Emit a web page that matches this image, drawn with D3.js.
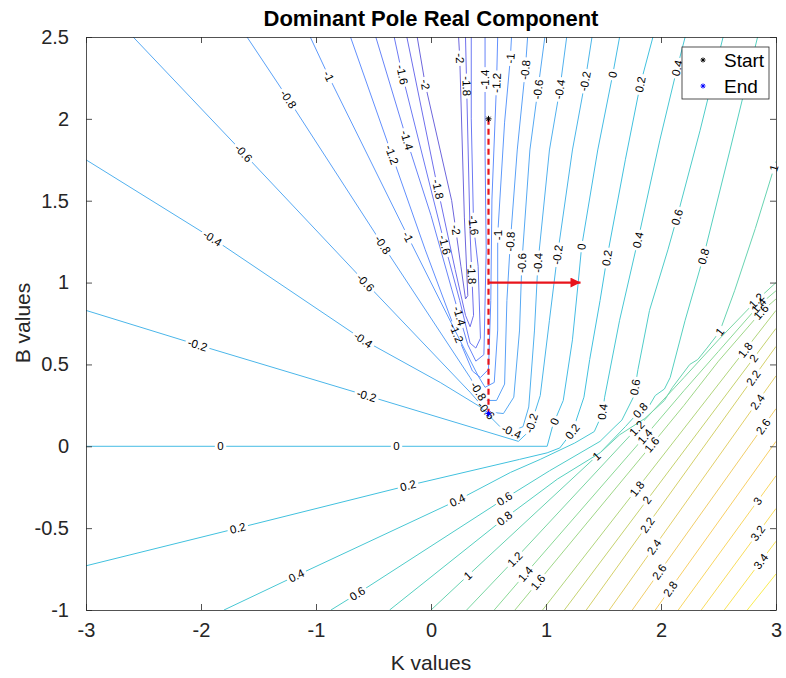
<!DOCTYPE html>
<html>
<head>
<meta charset="utf-8">
<title>Dominant Pole Real Component</title>
<script src="https://cdn.jsdelivr.net/npm/d3@7"></script>
<style>
  body { margin: 0; background: #fff; }
  svg { font-family: "Liberation Sans", Arial, Helvetica, sans-serif; }
  .tick text { fill: #262626; font-size: 20px; }
  .axis path, .axis line { stroke: #262626; stroke-width: 0.8; }
  .clabel { font-size: 11.5px; fill: #000; }
</style>
</head>
<body>
<script>
// contour level of every traced polyline (K, B pairs)
var lineLevels = [0, -0.2, -0.4, -0.6, -0.8, -1, -1.2, -1.4, -1.6, -1.8, -2,
                  0.2, 0.4, 0.6, 0.8, 1, 1.2, 1.4, 1.6,
                  1.8, 2, 2.2, 2.4, 2.6, 2.8, 3, 3.2, 3.4, 3.6];

var linePoints = [
  [[-3,0],[1.01,0],[1.06,0.13],[1.15,0.28],[1.23,0.65],[1.28,1.0],[1.31,1.22],[1.45,1.81],[1.58,2.27],[1.64,2.5]],
  [[-3,0.83],[-2.03,0.62],[-0.56,0.31],[0.76,0.03],[0.85,0.09],[0.95,0.31],[1.03,0.77],[1.10,1.17],[1.23,1.81],[1.34,2.23],[1.40,2.5]],
  [[-3,1.75],[-1.9,1.27],[-0.59,0.65],[0.08,0.39],[0.43,0.24],[0.6,0.12],[0.7,0.09],[0.8,0.12],[0.85,0.24],[0.90,0.71],[0.93,1.12],[1.03,1.81],[1.12,2.18],[1.18,2.5]],
  [[-2.59,2.5],[-1.63,1.79],[-0.57,1.0],[0.34,0.33],[0.49,0.21],[0.63,0.2],[0.72,0.3],[0.77,0.71],[0.79,1.12],[0.86,1.81],[0.93,2.18],[0.99,2.5]],
  [[-1.6,2.5],[-1.24,2.12],[-0.42,1.23],[0.34,0.42],[0.46,0.28],[0.57,0.28],[0.64,0.38],[0.66,0.89],[0.69,1.25],[0.75,1.81],[0.82,2.3],[0.84,2.5]],
  [[-1.05,2.5],[-0.89,2.26],[-0.2,1.28],[0.25,0.65],[0.41,0.43],[0.47,0.36],[0.55,0.39],[0.58,0.71],[0.58,1.29],[0.64,1.98],[0.69,2.37],[0.70,2.5]],
  [[-0.7,2.5],[-0.34,1.78],[-0.05,1.2],[0.21,0.71],[0.36,0.46],[0.43,0.42],[0.5,0.47],[0.52,0.89],[0.53,1.51],[0.57,2.22],[0.58,2.5]],
  [[-0.48,2.5],[-0.21,1.87],[0,1.41],[0.18,0.96],[0.32,0.62],[0.39,0.52],[0.46,0.56],[0.48,1.2],[0.47,1.8],[0.47,2.24],[0.47,2.5]],
  [[-0.32,2.5],[-0.25,2.27],[0.12,1.23],[0.25,0.89],[0.34,0.63],[0.39,0.6],[0.43,0.66],[0.41,1.1],[0.37,1.35],[0.35,2.0],[0.35,2.5]],
  [[-0.21,2.5],[0.06,1.57],[0.21,1.08],[0.30,0.8],[0.34,0.73],[0.37,0.8],[0.34,1.3],[0.31,2.2],[0.30,2.5]],
  [[-0.12,2.5],[-0.05,2.21],[0.18,1.5],[0.26,1.1],[0.3,0.9],[0.32,0.92],[0.29,1.4],[0.25,2.37],[0.24,2.5]],
  [[-3,-0.73],[-1.68,-0.5],[-0.2,-0.24],[0.77,-0.08],[1.01,-0.04],[1.12,-0.01],[1.23,0.09],[1.33,0.3],[1.38,0.53],[1.47,0.89],[1.53,1.15],[1.69,1.75],[1.82,2.21],[1.93,2.5]],
  [[-1.8,-1],[-1.17,-0.79],[0.23,-0.33],[0.69,-0.16],[0.95,-0.08],[1.25,0.02],[1.42,0.09],[1.49,0.2],[1.51,0.3],[1.64,0.77],[1.8,1.26],[1.99,1.87],[2.14,2.31],[2.21,2.5]],
  [[-0.87,-1],[-0.64,-0.9],[0.64,-0.32],[1.03,-0.15],[1.47,0.03],[1.6,0.12],[1.66,0.16],[1.76,0.3],[1.8,0.47],[1.9,0.83],[2.06,1.2],[2.14,1.4],[2.34,1.93],[2.54,2.5]],
  [[-0.36,-1],[0.64,-0.44],[1.1,-0.2],[1.47,-0.04],[1.69,0.12],[1.82,0.22],[1.9,0.25],[1.95,0.31],[2.03,0.35],[2.08,0.42],[2.21,0.77],[2.37,1.16],[2.6,1.81],[2.84,2.5]],
  [[0,-1],[0.32,-0.79],[1.44,-0.06],[1.64,0.07],[1.86,0.17],[2.03,0.28],[2.1,0.36],[2.25,0.5],[2.32,0.53],[2.4,0.6],[2.51,0.7],[2.64,0.95],[2.82,1.33],[3.0,1.74]],
  [[0.31,-1],[0.73,-0.69],[1.79,0.11],[2.2,0.42],[2.5,0.65],[2.83,0.89],[3.0,1.0]],
  [[0.55,-1],[0.82,-0.78],[1.86,0.06],[2.2,0.34],[2.5,0.58],[2.85,0.86],[3.0,0.95]],
  [[0.73,-1],[0.93,-0.83],[1.92,0.01],[2.2,0.25],[2.5,0.52],[2.87,0.82],[3.0,0.9]],
  [[0.97,-1],[3,0.83]],
  [[1.16,-1],[3,0.72]],
  [[1.35,-1],[3,0.61]],
  [[1.55,-1],[3,0.43]],
  [[1.75,-1],[3,0.23]],
  [[1.95,-1],[3,0.03]],
  [[2.15,-1],[3,-0.18]],
  [[2.35,-1],[3,-0.38]],
  [[2.55,-1],[3,-0.58]],
  [[2.75,-1],[3,-0.78]]
];

// where the inline level labels sit (K, B)
var labelSpots = [
  [[-1.83,0],[-0.3,0],[1.08,0.15],[1.31,1.22],[1.58,2.27]],
  [[-2.03,0.62],[-0.56,0.31],[0.88,0.14],[1.10,1.17],[1.34,2.23]],
  [[-1.9,1.27],[-0.59,0.65],[0.7,0.09],[0.93,1.12],[1.12,2.18]],
  [[-1.63,1.79],[-0.57,1.0],[0.79,1.12],[0.93,2.18],[0.48,0.22]],
  [[-1.24,2.12],[-0.42,1.23],[0.69,1.25],[0.82,2.3],[0.42,0.34]],
  [[-0.89,2.26],[-0.2,1.28],[0.58,1.29],[0.69,2.37]],
  [[-0.34,1.78],[0.57,2.22],[0.25,0.7]],
  [[-0.21,1.87],[0.47,2.24],[0.22,0.79]],
  [[-0.25,2.27],[0.12,1.23],[0.37,1.35]],
  [[0.06,1.57],[0.31,2.2],[0.34,1.05]],
  [[-0.05,2.21],[0.25,2.37],[0.2,1.32]],
  [[-1.68,-0.5],[-0.2,-0.24],[1.23,0.09],[1.53,1.15],[1.82,2.21]],
  [[-1.17,-0.79],[0.23,-0.33],[1.5,0.21],[1.8,1.26],[2.14,2.31]],
  [[-0.64,-0.9],[0.64,-0.32],[1.78,0.36],[2.14,1.4]],
  [[0.64,-0.44],[1.82,0.22],[2.37,1.16]],
  [[0.32,-0.79],[1.44,-0.06],[2.51,0.7],[2.98,1.7]],
  [[0.73,-0.69],[1.79,0.11],[2.83,0.89]],
  [[0.82,-0.78],[1.86,0.06],[2.85,0.86]],
  [[0.93,-0.83],[1.92,0.01],[2.87,0.82]],
  [[1.81,-0.27],[2.73,0.59]],
  [[1.88,-0.33],[2.82,0.53]],
  [[1.88,-0.48],[2.8,0.42]],
  [[1.95,-0.62],[2.84,0.27]],
  [[1.97,-0.76],[2.89,0.12]],
  [[2.06,-0.86]],
  [[2.83,-0.33]],
  [[2.84,-0.53]],
  [[2.88,-0.71]],
  []
];

var xTicks = [-3, -2, -1, 0, 1, 2, 3];
var yTicks = [-1, -0.5, 0, 0.5, 1, 1.5, 2, 2.5];
var startPt = [0.5, 2];
var endPt = [0.5, 0.2];
var arrowFrom = [0.5, 1];
var arrowTo = [1.3, 1];
var legendNames = ["Start", "End"];

var W = 786, H = 678;
var svg = d3.select("body").append("svg").attr("width", W).attr("height", H);

var x = d3.scaleLinear().domain([-3, 3]).range([86, 776]);
var y = d3.scaleLinear().domain([-1, 2.5]).range([610, 37]);

// parula colour map, lightened a little the way thin anti-aliased lines look
var parula = ["#3e26a8", "#4748eb", "#3375fe", "#2398eb", "#09afd8", "#26c3ad", "#6ecf74", "#bec440", "#f6be3c", "#f6d929", "#f9fb0e"];
var cLo = -2.4, cHi = 4.0;
var parulaScale = d3.scaleLinear()
  .domain(parula.map(function(d, i) { return cLo + i * (cHi - cLo) / (parula.length - 1); }))
  .range(parula);
var color = function(v) { return d3.interpolateRgb(parulaScale(v), "#fff")(0.22); };

var defs = svg.append("defs");
defs.append("clipPath").attr("id", "plotclip")
  .append("rect").attr("x", 86).attr("y", 37).attr("width", 690).attr("height", 573);

var line = d3.line().x(function(d) { return x(d[0]); }).y(function(d) { return y(d[1]); });

var fmt = function(v) { return String(+v.toFixed(1)); };

function nearest(pts, p) {
  var best = null;
  for (var j = 0; j < pts.length - 1; j++) {
    var a = pts[j], b = pts[j + 1];
    var dx = b[0] - a[0], dy = b[1] - a[1];
    var l2 = dx * dx + dy * dy;
    var t = l2 ? Math.max(0, Math.min(1, ((p[0] - a[0]) * dx + (p[1] - a[1]) * dy) / l2)) : 0;
    var qx = a[0] + t * dx, qy = a[1] + t * dy;
    var d = (p[0] - qx) * (p[0] - qx) + (p[1] - qy) * (p[1] - qy);
    if (!best || d < best.d) best = {d: d, x: qx, y: qy, ang: Math.atan2(dy, dx) * 180 / Math.PI};
  }
  if (best.ang > 90) best.ang -= 180;
  if (best.ang < -90) best.ang += 180;
  return best;
}

var plot = svg.append("g").attr("clip-path", "url(#plotclip)");
var labelG = svg.append("g");

linePoints.forEach(function(pts, i) {
  var px = pts.map(function(d) { return [x(d[0]), y(d[1])]; });
  var mask = defs.append("mask").attr("id", "m" + i)
    .attr("maskUnits", "userSpaceOnUse")
    .attr("x", 0).attr("y", 0).attr("width", W).attr("height", H);
  mask.append("rect").attr("width", W).attr("height", H).attr("fill", "#fff");

  labelSpots[i].forEach(function(s) {
    var n = nearest(px, [x(s[0]), y(s[1])]);
    var t = labelG.append("text").attr("class", "clabel")
      .attr("text-anchor", "middle")
      .attr("dy", "0.35em")
      .attr("transform", "translate(" + n.x + "," + n.y + ") rotate(" + n.ang + ")")
      .text(fmt(lineLevels[i]));
    var w = t.node().getComputedTextLength() + 5;
    mask.append("rect")
      .attr("x", -w / 2).attr("y", -6).attr("width", w).attr("height", 12)
      .attr("transform", "translate(" + n.x + "," + n.y + ") rotate(" + n.ang + ")")
      .attr("fill", "#000");
  });

  plot.append("path")
    .datum(pts)
    .attr("d", line)
    .attr("fill", "none")
    .attr("stroke", color(lineLevels[i]))
    .attr("stroke-width", 1)
    .attr("mask", "url(#m" + i + ")");
});

// path from start to end
plot.append("line")
  .attr("x1", x(startPt[0])).attr("y1", y(startPt[1]))
  .attr("x2", x(endPt[0])).attr("y2", y(endPt[1]))
  .attr("stroke", "#e8141c").attr("stroke-width", 2.2)
  .attr("stroke-dasharray", "6,4");

defs.append("marker").attr("id", "head")
  .attr("viewBox", "0 0 10 10").attr("refX", 10).attr("refY", 5)
  .attr("markerWidth", 12).attr("markerHeight", 10)
  .attr("markerUnits", "userSpaceOnUse").attr("orient", "auto")
  .append("path").attr("d", "M0,0L10,5L0,10z").attr("fill", "#e8141c");

plot.append("line")
  .attr("x1", x(arrowFrom[0])).attr("y1", y(arrowFrom[1]))
  .attr("x2", x(arrowTo[0])).attr("y2", y(arrowTo[1]))
  .attr("stroke", "#e8141c").attr("stroke-width", 2.2)
  .attr("marker-end", "url(#head)");

function star(g, cx, cy, r, col) {
  [[r, 0], [0, r], [r * 0.7, r * 0.7], [r * 0.7, -r * 0.7]].forEach(function(v) {
    g.append("line").attr("x1", cx - v[0]).attr("y1", cy - v[1])
      .attr("x2", cx + v[0]).attr("y2", cy + v[1])
      .attr("stroke", col).attr("stroke-width", 1);
  });
}
star(svg, x(startPt[0]), y(startPt[1]), 3, "#000");
star(svg, x(endPt[0]), y(endPt[1]), 3, "#0000ff");

// axes, MATLAB style box with inward ticks
svg.append("g").attr("class", "axis").attr("transform", "translate(0,610)")
  .call(d3.axisBottom(x).tickValues(xTicks).tickSizeInner(-6).tickSizeOuter(0).tickPadding(13)
    .tickFormat(function(d) { return String(d); }));
svg.append("g").attr("class", "axis").attr("transform", "translate(0,37)")
  .call(d3.axisTop(x).tickValues(xTicks).tickSizeInner(-6).tickSizeOuter(0).tickFormat(""));
svg.append("g").attr("class", "axis").attr("transform", "translate(86,0)")
  .call(d3.axisLeft(y).tickValues(yTicks).tickSizeInner(-6).tickSizeOuter(0).tickPadding(17)
    .tickFormat(function(d) { return String(d); }));
svg.append("g").attr("class", "axis").attr("transform", "translate(776,0)")
  .call(d3.axisRight(y).tickValues(yTicks).tickSizeInner(-6).tickSizeOuter(0).tickFormat(""));

svg.append("text").attr("x", 431).attr("y", 26).attr("text-anchor", "middle")
  .attr("font-size", 22).attr("font-weight", "bold").attr("fill", "#000")
  .text("Dominant Pole Real Component");
svg.append("text").attr("x", 431).attr("y", 670).attr("text-anchor", "middle")
  .attr("font-size", 21).attr("fill", "#262626").text("K values");
svg.append("text").attr("transform", "translate(30,323) rotate(-90)").attr("text-anchor", "middle")
  .attr("font-size", 21).attr("fill", "#262626").text("B values");

// legend
var lg = svg.append("g");
lg.append("rect").attr("x", 682).attr("y", 47).attr("width", 87).attr("height", 52)
  .attr("fill", "#fff").attr("stroke", "#262626").attr("stroke-width", 0.8);
star(lg, 703, 60, 2.5, "#000");
star(lg, 703, 86, 2.5, "#0000ff");
lg.selectAll("text.lt").data(legendNames).enter().append("text").attr("class", "lt")
  .attr("x", 724).attr("y", function(d, i) { return 67 + i * 26; })
  .attr("font-size", 19).attr("fill", "#000").text(function(d) { return d; });
</script>
</body>
</html>
